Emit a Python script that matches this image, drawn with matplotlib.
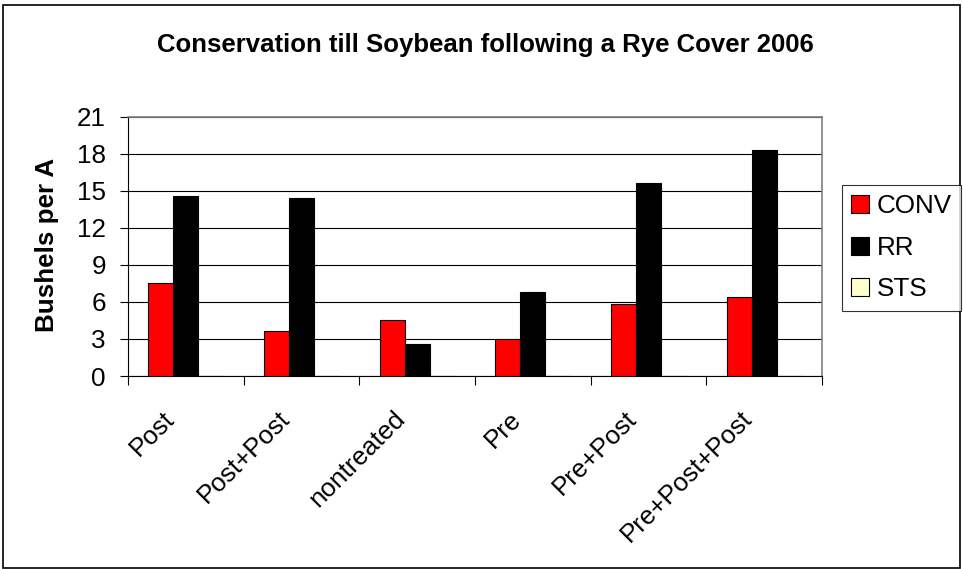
import numpy as np
import matplotlib
matplotlib.use("Agg")
import matplotlib.pyplot as plt
import matplotlib.transforms as mtransforms
from matplotlib.patches import Rectangle

plt.rcParams['font.family'] = ['Liberation Sans', 'DejaVu Sans']

categories = ["Post", "Post+Post", "nontreated", "Pre", "Pre+Post", "Pre+Post+Post"]
conv = [7.55, 3.67, 4.56, 3.0, 5.83, 6.37]
rr = [14.55, 14.44, 2.62, 6.78, 15.6, 18.33]
sts = [0, 0, 0, 0, 0, 0]

series = [("CONV", conv, "#FF0000"), ("RR", rr, "#000000"), ("STS", sts, "#FFFFCC")]

fig = plt.figure(figsize=(9.63, 5.69), dpi=100)
ax = fig.add_axes([128/963, 1-376/569, 694/963, (376-116.7)/569])

x = np.arange(len(categories))
w = 0.216
for k, (name, vals, col) in enumerate(series):
    ax.bar(x + (k-1)*w, vals, w, color=col, edgecolor="black", linewidth=0.8,
           label=name, zorder=3)

ax.set_xlim(-0.5, len(categories)-0.5)
ax.set_ylim(0, 21)
ax.set_yticks(np.arange(0, 22, 3))
ax.yaxis.grid(True, color="black", linewidth=0.8, zorder=0)
ax.tick_params(axis="y", direction="out", length=6, labelsize=18.7, pad=10)

ax.set_xticks(np.arange(-0.5, len(categories), 1))
ax.set_xticklabels([])
ax.tick_params(axis="x", which="major", direction="out", length=6.5)
ax.set_xticks(x, minor=True)
ax.set_xticklabels(categories, minor=True, rotation=45, ha="right",
                   rotation_mode="anchor", fontsize=18.7)
ax.tick_params(axis="x", which="minor", length=0, pad=22)
shift = mtransforms.ScaledTranslation(-0.24, 0, fig.dpi_scale_trans)
for lab in ax.get_xticklabels(minor=True):
    lab.set_transform(lab.get_transform() + shift)

for s in ["top", "right"]:
    ax.spines[s].set_color("#808080")
    ax.spines[s].set_linewidth(1.2)
ax.spines["left"].set_color("black")
ax.spines["bottom"].set_color("black")

fig.text(0.504, 1-45/569, "Conservation till Soybean following a Rye Cover 2006",
         ha="center", va="center", fontsize=18.5, fontweight="bold")
fig.text(0.049, 1-245/569, "Bushels per A", rotation=90, ha="center", va="center",
         fontsize=18.7, fontweight="bold")

leg = fig.legend(loc="upper left", bbox_to_anchor=(842/963, 1-185/569), fontsize=18.7,
                 frameon=True, fancybox=False, handlelength=0.7, handleheight=0.7,
                 handletextpad=0.3, labelspacing=0.68, borderpad=0.35,
                 borderaxespad=0)
leg.get_frame().set_edgecolor("black")
leg.get_frame().set_linewidth(0.8)

fig.patches.append(Rectangle((3/963, 0.002), 957/963, 1-6/569, transform=fig.transFigure,
                             fill=False, edgecolor="black", linewidth=1.2))

fig.savefig("out.png", dpi=100)
